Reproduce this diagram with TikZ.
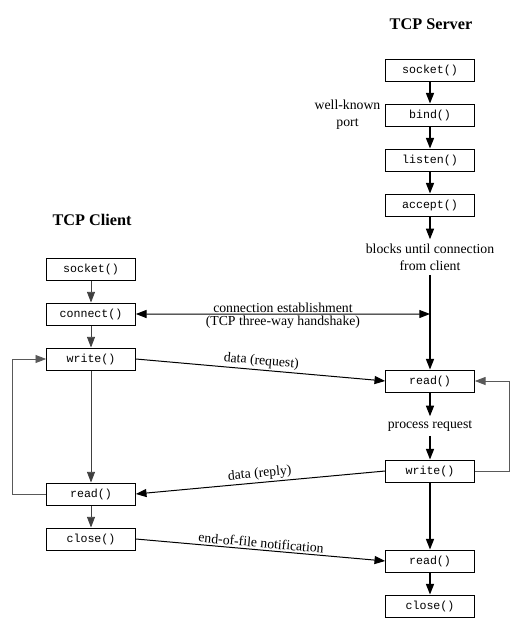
\documentclass[tikz,border=0pt]{standalone}
\usepackage{fontspec}
\setmainfont{Liberation Serif}
\setmonofont{Liberation Mono}
\usetikzlibrary{arrows.meta}
\tikzset{%
	>={Triangle[width=6.4pt,length=8.5pt]},
	% Specifications for style of nodes:
	call/.style = {rectangle, draw=black, line width=0.8pt,
		minimum width=71pt, minimum height=17.6pt, inner sep=0pt,
		text centered, font=\ttfamily\fontsize{9.3}{11}\selectfont, fill=white},
	title/.style = {font=\bfseries\fontsize{13}{15}\selectfont},
	note/.style = {align=center, font=\fontsize{11}{13.6}\selectfont},
	% Specifications for style of connectors:
	srvline/.style = {->, line width=1.2pt},
	cliline/.style = {->, line width=0.6pt, draw=black!75},
	loopline/.style = {->, line width=0.6pt, draw=black!65},
	dataline/.style = {->, line width=0.8pt}
}

\begin{document}
\begin{tikzpicture}[x=0.8pt, y=-0.8pt, node distance=36pt]
	\useasboundingbox (0,0) rectangle (526,630);
	% Server side (position, etc.)
	\node (srvTitle)  [title] at (431,24)          {TCP Server};
	\node (sSocket)   [call] at (430,70)           {socket()};
	\node (sBind)     [call, below of=sSocket]     {bind()};
	\node (sListen)   [call, below of=sBind]       {listen()};
	\node (sAccept)   [call, below of=sListen]     {accept()};
	\node (sPort)     [note, left of=sBind, node distance=66pt] {well-known\\port};
	\node (sBlock)    [note] at (430,257)          {blocks until connection\\from client};
	\coordinate (sWait) at (430,314);
	\node (sRead)     [call] at (430,381)          {read()};
	\node (sProc)     [note, below of=sRead]       {process request};
	\node (sWrite)    [call, below of=sProc]       {write()};
	\node (sRead2)    [call, below of=sWrite, node distance=72pt] {read()};
	\node (sClose)    [call, below of=sRead2]      {close()};
	% Client side
	\node (cliTitle)  [title] at (92,220)          {TCP Client};
	\node (cSocket)   [call] at (91,269)           {socket()};
	\node (cConnect)  [call, below of=cSocket]     {connect()};
	\node (cWrite)    [call, below of=cConnect]    {write()};
	\node (cRead)     [call, below of=cWrite, node distance=108pt] {read()};
	\node (cClose)    [call, below of=cRead]       {close()};
	
	\draw[srvline] (sSocket) -- (sBind);
	\draw[srvline] (sBind) -- (sListen);
	\draw[srvline] (sListen) -- (sAccept);
	\draw[srvline] (sAccept) -- (sBlock);
	\draw[srvline] (sBlock) -- (sRead);
	\draw[srvline] (sRead) -- (sProc);
	\draw[srvline] (sProc) -- (sWrite);
	\draw[srvline] (sWrite) -- (sRead2);
	\draw[srvline] (sRead2) -- (sClose);
	\draw[loopline] (sWrite.east) -- ++(34,0) |- (sRead.east);
	
	\draw[cliline] (cSocket) -- (cConnect);
	\draw[cliline] (cConnect) -- (cWrite);
	\draw[cliline] (cWrite) -- (cRead);
	\draw[cliline] (cRead) -- (cClose);
	\draw[loopline] (cRead.west) -- ++(-34,0) |- (cWrite.west);
	
	\draw[dataline, <->] (cConnect) -- node[note, above, inner sep=1pt] {connection establishment}
		node[note, below, inner sep=1pt] {(TCP three-way handshake)} (sWait);
	\draw[dataline] (cWrite.east) -- node[note, above, sloped, inner sep=1.5pt] {data (request)} (sRead.west);
	\draw[dataline] (sWrite.west) -- node[note, above, sloped, inner sep=1.5pt] {data (reply)} (cRead.east);
	\draw[dataline] (cClose.east) -- node[note, above, sloped, inner sep=1.5pt] {end-of-file notification} (sRead2.west);
\end{tikzpicture}
\end{document}
